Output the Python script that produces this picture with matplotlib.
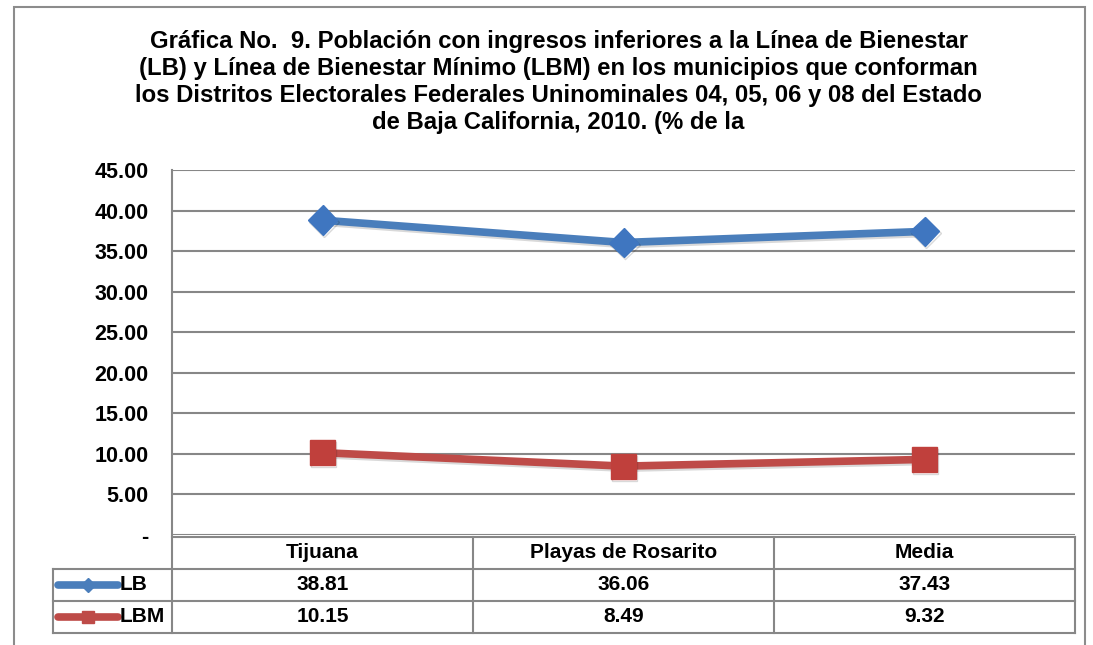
import numpy as np
import matplotlib
matplotlib.use('Agg')
import matplotlib.pyplot as plt
import matplotlib.patheffects as pe

categories = ['Tijuana', 'Playas de Rosarito', 'Media']
lb = [38.81, 36.06, 37.43]
lbm = [10.15, 8.49, 9.32]
series_names = ['LB', 'LBM']
yticks = [0, 5, 10, 15, 20, 25, 30, 35, 40, 45]
title = ('Gráfica No.  9. Población con ingresos inferiores a la Línea de Bienestar\n'
         '(LB) y Línea de Bienestar Mínimo (LBM) en los municipios que conforman\n'
         'los Distritos Electorales Federales Uninominales 04, 05, 06 y 08 del Estado\n'
         'de Baja California, 2010. (% de la')

W, H = 1093, 645
blue = '#4A7EBB'
red = '#BE4B48'
grid_c = '#878787'
plt.rcParams['font.family'] = ['Liberation Sans', 'DejaVu Sans']
plt.rcParams['font.weight'] = 'bold'

fig = plt.figure(figsize=(W / 100, H / 100), dpi=100)

def px(l, t, r, b):
    return [l / W, 1 - b / H, (r - l) / W, (b - t) / H]

# outer chart border
fig.add_artist(plt.Rectangle((14 / W, -0.1), (1085 - 14) / W, 1.1 - 7 / H,
                             transform=fig.transFigure, fill=False,
                             ec='#8c8c8c', lw=1.5))

fig.text(0.511, 1 - 30 / H, title, ha='center', va='top', fontsize=17.2,
         fontweight='bold', linespacing=1.23)

# plot area
ax = fig.add_axes(px(172, 170, 1075, 535))
xs = np.arange(len(categories))
shadow = [pe.SimpleLineShadow(offset=(1, -1.5), alpha=0.15), pe.Normal()]
ax.plot(xs, lb, color=blue, lw=5.5, marker='D', ms=15, mfc='#3F76C0', mec='#3F76C0',
        solid_capstyle='round', path_effects=shadow, zorder=3)
ax.plot(xs, lbm, color=red, lw=5.5, marker='s', ms=18, mfc='#C0403C', mec='#C0403C',
        solid_capstyle='round', path_effects=shadow, zorder=3)
ax.set_xlim(-0.5, 2.5)
ax.set_ylim(0, 45)
ax.set_yticks(yticks)
ax.set_yticklabels(['-'] + ['%.2f' % v for v in yticks[1:]], fontsize=15.5, fontweight='bold')
ax.set_xticks([])
ax.tick_params(axis='y', length=0, pad=17)
ax.yaxis.grid(True, color=grid_c, lw=1.5)
ax.set_axisbelow(True)
for s in ['top', 'right', 'bottom']:
    ax.spines[s].set_visible(False)
ax.spines['left'].set_color(grid_c)
ax.spines['left'].set_linewidth(1.5)
ax.patch.set_alpha(0)

# data table
legw = (172 - 53) / 301
tx = fig.add_axes(px(53, 537, 1075, 633))
tx.set_xlim(-0.5 - legw, 2.5)
tx.set_ylim(0, 3)
tx.axis('off')
lk = dict(color=grid_c, lw=1.5, clip_on=False)
tx.plot([-0.5, 2.5], [3, 3], **lk)
tx.plot([-0.5 - legw, 2.5], [2, 2], **lk)
tx.plot([-0.5 - legw, 2.5], [1, 1], **lk)
tx.plot([-0.5 - legw, 2.5], [0, 0], **lk)
tx.plot([-0.5 - legw, -0.5 - legw], [0, 2], **lk)
for b in [-0.5, 0.5, 1.5, 2.5]:
    tx.plot([b, b], [0, 3], **lk)
for i, c in enumerate(categories):
    tx.text(i, 2.5, c, ha='center', va='center', fontsize=15, fontweight='bold')
    tx.text(i, 1.5, '%.2f' % lb[i], ha='center', va='center', fontsize=15, fontweight='bold')
    tx.text(i, 0.5, '%.2f' % lbm[i], ha='center', va='center', fontsize=15, fontweight='bold')
x0 = -0.5 - legw
for row, name, col, mk, ms in [(1.5, series_names[0], blue, 'D', 7), (0.5, series_names[1], red, 's', 9)]:
    tx.plot([x0 + 0.015, x0 + 0.215], [row, row], color=col, lw=5.5, solid_capstyle='round')
    tx.plot([x0 + 0.115], [row], marker=mk, ms=ms, color=col)
    tx.text(x0 + 0.222, row, name, ha='left', va='center', fontsize=15, fontweight='bold')

fig.savefig('out.png', dpi=100)
